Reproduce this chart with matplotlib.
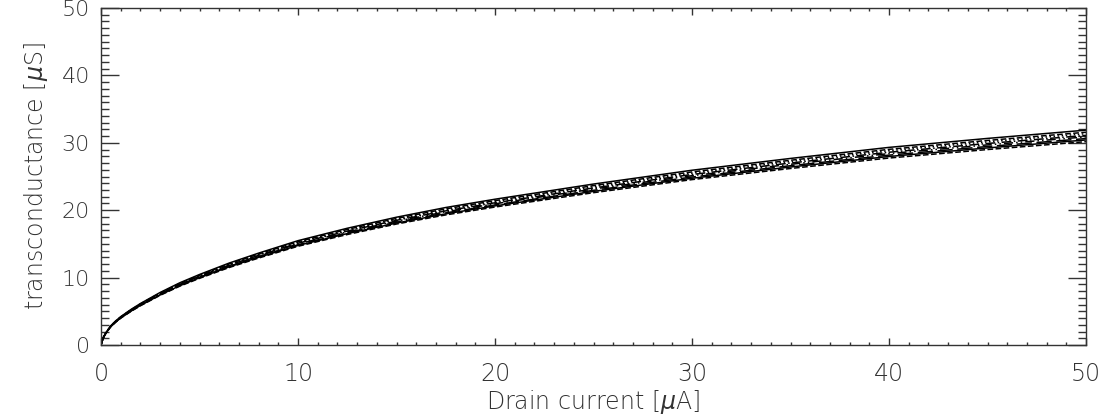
import numpy as np
import matplotlib
matplotlib.use("Agg")
import matplotlib.pyplot as plt
from matplotlib.ticker import MultipleLocator

# drain current grid [uA]
current = [0, 0.1, 0.25, 0.5, 0.75, 1, 1.5, 2, 3, 4, 5, 6.5, 8, 10, 12.5, 15,
           17.5, 20, 25, 30, 35, 40, 45, 50]

# transconductance per device [uS]
gm_1 = [0, 1.03, 1.85, 2.87, 3.59, 4.20, 5.23, 6.15, 7.79, 9.23, 10.46, 12.15,
        13.63, 15.48, 17.32, 18.96, 20.40, 21.63, 23.88, 25.93, 27.68, 29.32, 30.65, 31.88]
gm_2 = [0, 1.02, 1.83, 2.84, 3.55, 4.16, 5.18, 6.09, 7.71, 9.14, 10.35, 12.03,
        13.50, 15.33, 17.15, 18.78, 20.20, 21.42, 23.65, 25.68, 27.41, 29.03, 30.35, 31.57]
gm_3 = [0, 1.01, 1.81, 2.82, 3.53, 4.13, 5.14, 6.05, 7.66, 9.07, 10.28, 11.94,
        13.41, 15.22, 17.04, 18.65, 20.06, 21.27, 23.49, 25.50, 27.22, 28.83, 30.14, 31.35]
gm_4 = [0, 1.00, 1.80, 2.80, 3.50, 4.10, 5.10, 6.00, 7.60, 9.00, 10.20, 11.85,
        13.30, 15.10, 16.90, 18.50, 19.90, 21.10, 23.30, 25.30, 27.00, 28.60, 29.90, 31.10]
gm_5 = [0, 0.99, 1.79, 2.78, 3.48, 4.07, 5.06, 5.96, 7.55, 8.94, 10.13, 11.77,
        13.21, 14.99, 16.78, 18.37, 19.76, 20.95, 23.14, 25.12, 26.81, 28.40, 29.69, 30.88]
gm_6 = [0, 0.99, 1.77, 2.76, 3.45, 4.04, 5.02, 5.91, 7.49, 8.87, 10.05, 11.67,
        13.10, 14.87, 16.65, 18.22, 19.60, 20.78, 22.95, 24.92, 26.60, 28.17, 29.45, 30.63]
gm_7 = [0, 0.98, 1.76, 2.74, 3.42, 4.01, 4.99, 5.87, 7.43, 8.80, 9.98, 11.59,
        13.01, 14.77, 16.53, 18.09, 19.46, 20.64, 22.79, 24.74, 26.41, 27.97, 29.24, 30.42]
gm_8 = [0, 0.97, 1.75, 2.72, 3.40, 3.98, 4.95, 5.82, 7.37, 8.73, 9.89, 11.49,
        12.90, 14.65, 16.39, 17.95, 19.30, 20.47, 22.60, 24.54, 26.19, 27.74, 29.00, 30.17]

gm_curves = [gm_1, gm_2, gm_3, gm_4, gm_5, gm_6, gm_7, gm_8]
styles = ["-", "--", ":", "-.", (0, (6, 2, 1, 2, 1, 2)), (0, (10, 3)), "-", "--"]

axis_col = "#333333"

fig = plt.figure(figsize=(11, 4.2), dpi=100)
ax = fig.add_axes((101 / 1100, 75 / 420, 985 / 1100, 337 / 420))

for vals, ls in zip(gm_curves, styles):
    ax.plot(current, vals, color="black", linestyle=ls, linewidth=1.1)

ax.set_xlim(0, 50)
ax.set_ylim(0, 50)
ax.xaxis.set_major_locator(MultipleLocator(10))
ax.xaxis.set_minor_locator(MultipleLocator(1))
ax.yaxis.set_major_locator(MultipleLocator(10))
ax.yaxis.set_minor_locator(MultipleLocator(1))

for sp in ax.spines.values():
    sp.set_color(axis_col)
    sp.set_linewidth(1.0)

ax.tick_params(axis="both", which="both", direction="in", top=True, right=True,
               colors=axis_col, width=1.0)
ax.tick_params(axis="x", which="major", length=5, pad=12, labelsize=17)
ax.tick_params(axis="x", which="minor", length=2.5)
ax.tick_params(axis="y", which="major", length=13, pad=8, labelsize=16)
ax.tick_params(axis="y", which="minor", length=5.8)

for lab in ax.get_xticklabels() + ax.get_yticklabels():
    lab.set_fontweight("light")

ax.set_xlabel(r"Drain current [$\mu$A]", fontsize=17, color=axis_col,
              fontweight="light", labelpad=2)
ax.set_ylabel(r"transconductance [$\mu$S]", fontsize=17, color=axis_col,
              fontweight="light", labelpad=8)

fig.savefig("out.png", dpi=100)
